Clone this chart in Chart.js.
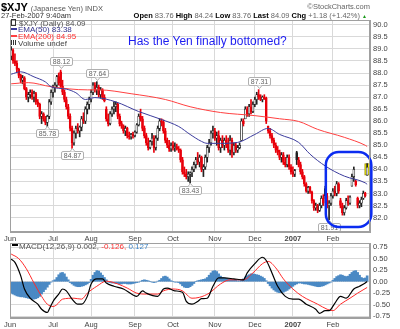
<!DOCTYPE html>
<html>
<head>
<meta charset="utf-8">
<script src="https://cdn.jsdelivr.net/npm/chart.js@4.4.0/dist/chart.umd.min.js"></script>
<style>
  body { margin: 0; background: #fff; }
  #wrap { position: relative; width: 400px; height: 329px; overflow: hidden; font-family: "Liberation Sans", Arial, sans-serif; }
  canvas { position: absolute; left: 0; }
  .t { position: absolute; white-space: nowrap; line-height: 1; color: #444; }
  .dash { display: inline-block; width: 6px; height: 2px; margin: 0 1px 2px 0; vertical-align: middle; }
</style>
</head>
<body>
<div id="wrap">
  <canvas id="priceChart" width="400" height="243" style="top:0"></canvas>
  <canvas id="macdChart" width="400" height="86" style="top:243px"></canvas>

  <div class="t" style="left:1px;top:1.5px;font-size:11px;font-weight:bold;color:#000">$XJY <span style="font-size:7.5px;font-weight:normal;color:#555">(Japanese Yen) INDX</span></div>
  <div class="t" style="right:30px;top:2.5px;font-size:7.5px;color:#666">&copy;StockCharts.com</div>
  <div class="t" style="left:1px;top:11.5px;font-size:7.5px;color:#333">27-Feb-2007 9:40am</div>
  <div class="t" style="right:33px;top:11.5px;font-size:7.5px;color:#666"><b style="color:#000">Open</b> 83.76 <b style="color:#000">High</b> 84.24 <b style="color:#000">Low</b> 83.76 <b style="color:#000">Last</b> 84.09 <b style="color:#000">Chg</b> +1.18 (+1.42%) <span style="color:#1a9a1a;font-size:5px">&#9650;</span></div>

  <div class="t" style="left:11px;top:19px;font-size:8px;color:#555"><span style="display:inline-block;width:3px;height:5px;border:1px solid #333;margin-right:3px;vertical-align:middle;margin-bottom:2px"></span>$XJY (Daily) 84.09</div>
  <div class="t" style="left:11px;top:26px;font-size:8px;color:#33338c"><span class="dash" style="background:#3b3b9c"></span>EMA(50) 83.38</div>
  <div class="t" style="left:11px;top:33px;font-size:8px;color:#ff3030"><span class="dash" style="background:#ff4040"></span>EMA(200) 84.95</div>
  <div class="t" style="left:11px;top:40px;font-size:8px;color:#444"><span style="display:inline-block;width:6px;height:5px;margin-right:1px;vertical-align:middle;margin-bottom:2px;background:linear-gradient(90deg,#333 0 1px,#fff 1px 2px,#333 2px 3px,#fff 3px 4px,#333 4px 5px,#fff 5px)"></span>Volume undef</div>

  <div class="t" style="left:128px;top:35px;font-size:12px;color:#1c1cf0">Has the Yen finally bottomed?</div>

  <div class="t" style="left:12px;top:242.5px;font-size:8px;color:#555"><span class="dash" style="background:#000"></span>MACD(12,26,9) 0.002, <span style="color:#ff3030">-0.126,</span> <span style="color:#3d85c6">0.127</span></div>
</div>

<script>
const FONT = '"Liberation Sans", Arial, sans-serif';

// daily bars, index 0 = 1-Jun-2006, last = 27-Feb-2007
const openPrices = [
  88.70, 88.95, 88.50, 88.40, 88.15, 87.90, 87.70, 87.80, 87.35, 87.00,
  87.10, 87.20, 87.00, 87.15, 86.80, 86.70, 86.20, 86.30, 86.10, 85.95,
  86.20, 86.80, 87.20, 87.40, 87.50, 87.85, 88.05, 87.45, 87.20, 86.90,
  86.60, 86.20, 85.70, 85.10, 85.50, 85.70, 85.60, 85.75, 86.10, 86.00,
  86.50, 86.70, 86.90, 87.20, 87.50, 87.30, 87.40, 87.10, 87.30, 87.00,
  86.50, 86.10, 85.90, 86.30, 86.50, 86.60, 86.70, 86.20, 85.90, 85.80,
  85.60, 85.70, 85.40, 85.35, 85.45, 85.40, 85.55, 85.85, 86.20, 86.10,
  85.70, 85.40, 85.10, 84.90, 85.15, 85.30, 84.90, 85.30, 85.70, 86.00,
  85.95, 85.60, 85.20, 85.00, 84.85, 85.00, 84.90, 84.95, 84.85, 84.80,
  84.40, 83.90, 83.80, 83.70, 83.80, 83.85, 84.00, 84.20, 84.40, 84.30,
  84.50, 84.00, 84.10, 84.50, 84.90, 85.10, 85.50, 85.60, 85.30, 85.40,
  84.90, 85.20, 85.00, 85.20, 85.10, 84.80, 85.20, 84.70, 85.00, 84.80,
  84.90, 85.20, 86.00, 86.10, 86.50, 86.30, 86.60, 86.40, 86.70, 86.90,
  87.10, 87.00, 86.90, 87.00, 86.95, 85.80, 85.60, 85.40, 85.20, 85.00,
  84.80, 84.70, 84.50, 84.60, 84.30, 84.20, 84.50, 84.10, 83.90, 83.80,
  84.70, 84.40, 84.20, 83.90, 83.70, 83.40, 83.10, 83.25, 83.05, 82.70,
  82.40, 82.50, 82.30, 82.50, 82.80, 83.20, 82.90, 82.50, 82.60, 82.90,
  83.10, 83.00, 83.40, 82.70, 82.50, 82.20, 82.40, 82.70, 82.60, 83.30,
  83.70, 83.50, 82.80, 82.50, 82.60, 82.80, 83.00, 83.76
];
const highPrices = [
  89.10, 89.00, 88.80, 88.50, 88.20, 87.95, 87.90, 87.85, 87.40, 87.20,
  87.30, 87.30, 87.25, 87.20, 86.90, 86.75, 86.40, 86.35, 86.20, 86.25,
  86.90, 87.30, 87.50, 87.60, 87.90, 88.00, 88.12, 87.70, 87.30, 87.00,
  86.70, 86.30, 85.80, 85.60, 85.80, 85.90, 85.80, 86.20, 86.35, 86.60,
  86.80, 87.00, 87.30, 87.60, 87.60, 87.64, 87.50, 87.40, 87.35, 87.10,
  86.60, 86.30, 86.40, 86.60, 86.80, 86.80, 86.75, 86.30, 86.00, 85.85,
  85.80, 85.75, 85.55, 85.50, 85.55, 85.60, 85.90, 86.30, 86.50, 86.20,
  85.80, 85.50, 85.30, 85.20, 85.50, 85.40, 85.40, 85.80, 86.10, 86.10,
  86.05, 85.70, 85.30, 85.20, 85.10, 85.15, 85.10, 85.05, 84.95, 84.85,
  84.50, 84.10, 84.00, 83.90, 83.90, 84.10, 84.30, 84.50, 84.70, 84.60,
  84.55, 84.20, 84.60, 85.00, 85.25, 85.60, 85.80, 85.70, 85.55, 85.60,
  85.30, 85.40, 85.30, 85.40, 85.30, 85.40, 85.30, 85.10, 85.10, 85.00,
  85.10, 86.10, 86.10, 86.60, 86.60, 86.70, 86.90, 86.80, 87.00, 87.20,
  87.31, 87.10, 87.05, 87.10, 87.00, 85.80, 85.70, 85.50, 85.30, 85.10,
  84.95, 84.80, 84.70, 84.70, 84.50, 84.60, 84.60, 84.20, 84.10, 84.00,
  84.75, 84.50, 84.30, 84.00, 83.75, 83.45, 83.30, 83.30, 83.10, 82.75,
  82.60, 82.55, 82.60, 82.90, 82.95, 83.30, 83.00, 82.70, 83.00, 83.20,
  83.30, 83.50, 83.45, 82.80, 82.60, 82.50, 82.80, 82.90, 82.90, 83.80,
  84.10, 83.55, 82.85, 82.70, 82.85, 83.10, 83.05, 84.24
];
const lowPrices = [
  88.55, 88.40, 88.30, 88.05, 87.80, 87.60, 87.55, 87.30, 86.90, 86.80,
  86.95, 86.90, 86.80, 86.70, 86.60, 86.10, 85.90, 86.00, 85.85, 85.78,
  86.10, 86.70, 87.00, 87.20, 87.40, 87.50, 87.40, 87.10, 86.80, 86.50,
  86.10, 85.60, 84.87, 85.00, 85.30, 85.50, 85.35, 85.60, 85.90, 85.90,
  86.30, 86.50, 86.80, 87.10, 87.20, 87.10, 87.00, 86.95, 86.90, 86.80,
  86.00, 85.80, 85.85, 86.20, 86.30, 86.40, 86.10, 85.80, 85.70, 85.50,
  85.40, 85.30, 85.25, 85.25, 85.30, 85.35, 85.50, 85.80, 86.00, 85.60,
  85.30, 85.00, 84.80, 84.85, 85.00, 84.70, 84.80, 85.20, 85.60, 85.80,
  85.50, 85.10, 84.90, 84.75, 84.75, 84.80, 84.75, 84.80, 84.70, 84.30,
  83.80, 83.70, 83.60, 83.50, 83.43, 83.70, 83.90, 84.05, 84.20, 84.10,
  83.90, 83.70, 84.00, 84.30, 84.70, 85.00, 85.30, 85.20, 85.00, 84.80,
  84.70, 84.90, 84.80, 84.90, 84.70, 84.60, 84.50, 84.60, 84.70, 84.70,
  84.85, 85.20, 85.80, 86.10, 86.20, 86.20, 86.30, 86.35, 86.60, 86.70,
  86.90, 86.85, 86.80, 86.90, 85.90, 85.50, 85.30, 85.10, 84.90, 84.70,
  84.60, 84.40, 84.30, 84.20, 84.10, 84.10, 84.00, 83.80, 83.70, 83.70,
  84.20, 84.10, 83.80, 83.60, 83.30, 83.05, 83.00, 83.00, 82.60, 82.30,
  82.30, 82.20, 82.25, 82.40, 82.50, 82.80, 82.40, 81.91, 82.50, 82.80,
  82.90, 82.90, 83.00, 82.40, 82.10, 82.10, 82.35, 82.50, 82.55, 83.30,
  83.50, 83.30, 82.40, 82.40, 82.45, 82.75, 82.85, 83.76
];
const closePrices = [
  88.95, 88.50, 88.40, 88.15, 87.90, 87.70, 87.80, 87.35, 87.00, 87.10,
  87.20, 87.00, 87.15, 86.80, 86.70, 86.20, 86.30, 86.10, 85.95, 86.20,
  86.80, 87.20, 87.40, 87.50, 87.85, 87.60, 87.45, 87.20, 86.90, 86.60,
  86.20, 85.70, 85.10, 85.50, 85.70, 85.60, 85.75, 86.10, 86.00, 86.50,
  86.70, 86.90, 87.20, 87.50, 87.30, 87.40, 87.10, 87.30, 87.00, 86.85,
  86.10, 85.90, 86.30, 86.50, 86.60, 86.70, 86.20, 85.90, 85.80, 85.60,
  85.70, 85.40, 85.35, 85.45, 85.40, 85.55, 85.85, 86.20, 86.10, 85.70,
  85.40, 85.10, 84.90, 85.15, 85.30, 84.90, 85.30, 85.70, 86.00, 85.95,
  85.60, 85.20, 85.00, 84.85, 85.00, 84.90, 84.95, 84.85, 84.80, 84.40,
  83.90, 83.80, 83.70, 83.80, 83.85, 84.00, 84.20, 84.40, 84.30, 84.50,
  84.00, 84.10, 84.50, 84.90, 85.10, 85.50, 85.60, 85.30, 85.40, 84.90,
  85.20, 85.00, 85.20, 85.10, 84.80, 85.20, 84.70, 85.00, 84.80, 84.90,
  85.00, 86.00, 85.90, 86.50, 86.30, 86.60, 86.40, 86.70, 86.90, 87.10,
  87.00, 86.90, 87.00, 86.95, 86.00, 85.60, 85.40, 85.20, 85.00, 84.80,
  84.70, 84.50, 84.60, 84.30, 84.20, 84.50, 84.10, 83.90, 83.80, 83.95,
  84.40, 84.20, 83.90, 83.70, 83.40, 83.10, 83.25, 83.05, 82.70, 82.40,
  82.50, 82.30, 82.50, 82.80, 82.60, 82.90, 82.50, 82.60, 82.90, 83.10,
  83.00, 83.40, 83.10, 82.50, 82.20, 82.40, 82.70, 82.60, 82.85, 83.70,
  84.00, 83.35, 82.50, 82.60, 82.75, 83.00, 82.91, 84.09
];

// moving averages, read at selected days
const ema50Days = [0, 5, 12, 18, 21, 29, 34, 39, 44, 55, 67, 79, 88, 94, 100, 103, 110, 119, 128, 135, 141, 151, 157, 165, 175, 186, 187];
const ema50 = [87.95, 88.05, 87.84, 87.63, 87.43, 87.33, 87.18, 86.90, 86.98, 86.80, 86.40, 86.07, 85.78, 85.45, 85.16, 85.08, 85.08, 85.12, 85.45, 85.70, 85.45, 85.12, 84.63, 84.14, 83.72, 83.44, 83.38];
const ema200Days = [0, 9, 21, 40, 46, 63, 81, 94, 110, 128, 141, 151, 161, 175, 186, 187];
const ema200 = [87.55, 87.60, 87.43, 87.30, 87.30, 87.14, 86.90, 86.60, 86.36, 86.23, 86.10, 85.99, 85.66, 85.33, 85.00, 84.95];

// MACD(12,26,9)
const macdDays = [0, 2, 5, 7, 10, 14, 16, 19, 20, 22, 25, 27, 29, 32, 35, 37, 40, 42, 45, 48, 50, 54, 59, 64, 66, 69, 71, 77, 80, 82, 86, 90, 92, 95, 98, 100, 103, 106, 109, 112, 117, 122, 124, 128, 132, 134, 137, 140, 144, 148, 151, 155, 160, 162, 165, 167, 170, 173, 176, 180, 183, 186, 187];
const macdLine = [0.49, 0.42, 0.13, -0.16, -0.36, -0.49, -0.60, -0.67, -0.60, -0.43, -0.27, -0.16, -0.20, -0.38, -0.49, -0.49, -0.32, -0.05, 0.06, 0.06, -0.03, -0.10, -0.16, -0.29, -0.32, -0.20, -0.25, -0.32, -0.16, -0.14, -0.20, -0.23, -0.43, -0.49, -0.43, -0.37, -0.36, -0.10, 0.08, 0.08, 0.06, 0.04, 0.19, 0.39, 0.53, 0.46, 0.19, -0.10, -0.32, -0.38, -0.38, -0.49, -0.60, -0.69, -0.63, -0.63, -0.47, -0.32, -0.36, -0.16, -0.10, -0.03, 0.002];
const signalDays = [0, 4, 8, 12, 16, 19, 22, 24, 27, 33, 37, 40, 45, 50, 56, 61, 66, 71, 77, 80, 85, 90, 95, 99, 104, 110, 115, 122, 127, 132, 135, 139, 143, 148, 153, 161, 166, 169, 173, 178, 182, 187];
const signalLine = [0.60, 0.50, 0.28, -0.03, -0.32, -0.49, -0.54, -0.50, -0.38, -0.36, -0.38, -0.25, -0.10, 0.01, -0.05, -0.14, -0.25, -0.27, -0.27, -0.20, -0.16, -0.20, -0.36, -0.34, -0.25, -0.05, 0.04, 0.04, 0.19, 0.39, 0.44, 0.30, 0.06, -0.16, -0.32, -0.49, -0.60, -0.63, -0.49, -0.36, -0.25, -0.126];
const macdHist = [
  -0.25, -0.27, -0.29, -0.31, -0.32, -0.33, -0.33, -0.34, -0.35, -0.36,
  -0.37, -0.38, -0.38, -0.37, -0.35, -0.32, -0.27, -0.22, -0.17, -0.12,
  -0.06, -0.01, 0.02, 0.04, 0.09, 0.15, 0.19, 0.20, 0.17, 0.10,
  0.04, -0.02, -0.05, -0.08, -0.10, -0.11, -0.11, -0.10, -0.09, -0.07,
  -0.05, -0.02, 0.05, 0.14, 0.20, 0.24, 0.23, 0.19, 0.14, 0.09,
  0.04, -0.01, -0.02, -0.03, -0.03, -0.04, -0.04, -0.05, -0.05, -0.04,
  -0.04, -0.05, -0.05, -0.05, -0.04, -0.03, -0.02, -0.01, 0.01, 0.03,
  0.04, 0.03, 0.02, 0.00, -0.01, -0.02, -0.01, 0.01, 0.03, 0.07,
  0.11, 0.12, 0.10, 0.06, 0.02, 0.00, -0.01, -0.01, -0.02, -0.05,
  -0.09, -0.12, -0.13, -0.13, -0.11, -0.08, -0.04, 0.00, 0.02, 0.03,
  0.04, 0.05, 0.06, 0.09, 0.14, 0.19, 0.23, 0.24, 0.22, 0.17,
  0.12, 0.09, 0.08, 0.07, 0.06, 0.06, 0.05, 0.04, 0.03, 0.02,
  0.02, 0.03, 0.06, 0.10, 0.13, 0.15, 0.17, 0.17, 0.16, 0.15,
  0.14, 0.12, 0.10, 0.07, 0.02, -0.04, -0.09, -0.14, -0.18, -0.21,
  -0.23, -0.24, -0.24, -0.23, -0.21, -0.19, -0.16, -0.13, -0.10, -0.07,
  -0.05, -0.03, -0.03, -0.04, -0.05, -0.05, -0.06, -0.07, -0.08, -0.09,
  -0.10, -0.11, -0.11, -0.10, -0.09, -0.07, -0.05, -0.03, -0.01, 0.03,
  0.07, 0.11, 0.13, 0.15, 0.14, 0.12, 0.11, 0.12, 0.16, 0.20,
  0.23, 0.24, 0.20, 0.14, 0.09, 0.07, 0.08, 0.127
];

// axis ticks
const monthStarts = [-0.6, 22, 42, 65, 85, 107, 128, 148, 169];
const monthNames = ['Jun', 'Jul', 'Aug', 'Sep', 'Oct', 'Nov', 'Dec', '2007', 'Feb'];
const priceTicks = [82.0, 82.5, 83.0, 83.5, 84.0, 84.5, 85.0, 85.5, 86.0, 86.5, 87.0, 87.5, 88.0, 88.5, 89.0, 89.5, 90.0];
const macdTicks = [-0.75, -0.5, -0.25, 0, 0.25, 0.5, 0.75];

// high/low callouts
const calloutDays = [26, 45, 19, 32, 94, 130, 167];
const calloutPrices = [88.12, 87.64, 85.78, 84.87, 83.43, 87.31, 81.91];

// hand-drawn box around the February bars
const circled = { fromDay: 165.3, toDay: 189.2, top: 84.72, bottom: 81.61 };

const lastDay = closePrices.length - 1;
const days = closePrices.map((c, i) => i);
const upColor = '#222222';
const downColor = '#e8000b';
// StockCharts style: colour by change vs previous close, hollow when close >= open
const strokeColors = closePrices.map((c, i) => (i > 0 && c < closePrices[i - 1]) ? downColor : upColor);
const fillColors = closePrices.map((c, i) => c >= openPrices[i] ? '#ffffff' : strokeColors[i]);

Chart.defaults.font.family = FONT;
Chart.defaults.animation = false;
Chart.defaults.plugins.legend.display = false;
Chart.defaults.plugins.tooltip.enabled = false;

function monthAxis() {
  return {
    type: 'linear', min: -0.6, max: 188.5, offset: false,
    afterBuildTicks: s => { s.ticks = monthStarts.map(v => ({ value: v })); },
    afterFit: s => { s.height = 11; s.paddingLeft = 0; s.paddingRight = 0; },
    grid: { color: '#d9d9d9', drawTicks: false, offset: false },
    border: { color: '#a0a0a0' },
    ticks: {
      autoSkip: false, maxRotation: 0, padding: 2, color: '#444',
      font: c => ({ family: FONT, size: 7.5, weight: monthNames[c.index] === '2007' ? 'bold' : 'normal' }),
      callback: (v, i) => monthNames[i]
    }
  };
}

function valueAxis(min, max, ticks, digits) {
  return {
    position: 'right', min: min, max: max,
    afterBuildTicks: s => { s.ticks = ticks.map(v => ({ value: v })); },
    afterFit: s => { s.width = 30; s.paddingTop = 0; s.paddingBottom = 0; },
    grid: { color: '#d9d9d9', drawTicks: false },
    border: { color: '#a0a0a0' },
    ticks: { autoSkip: false, padding: 3, color: '#444', font: { size: 7.5 }, callback: v => v.toFixed(digits) }
  };
}

// thin frame round each plot area
const framePlugin = {
  id: 'frame',
  afterDraw(chart) {
    const { ctx, chartArea: a } = chart;
    ctx.save();
    ctx.strokeStyle = '#a0a0a0';
    ctx.lineWidth = 1;
    ctx.strokeRect(Math.round(a.left) + 0.5, Math.round(a.top) + 0.5, Math.round(a.width) - 1, Math.round(a.height) - 1);
    ctx.restore();
  }
};

const calloutPlugin = {
  id: 'callouts',
  afterDatasetsDraw(chart) {
    const { ctx, scales: { x, y } } = chart;
    ctx.save();
    ctx.font = '7px ' + FONT;
    ctx.textAlign = 'center';
    ctx.textBaseline = 'middle';
    calloutDays.forEach((day, k) => {
      const price = calloutPrices[k];
      const above = price === highPrices[day];
      const label = price.toFixed(2);
      const px = Math.round(x.getPixelForValue(day));
      const py = y.getPixelForValue(price);
      const w = Math.round(ctx.measureText(label).width + 4), h = 8;
      const top = Math.round(above ? py - 5 - h : py + 3);
      ctx.fillStyle = '#ffffff';
      ctx.strokeStyle = '#b0b0b0';
      ctx.lineWidth = 1;
      ctx.beginPath();
      ctx.roundRect(px - w / 2 + 0.5, top + 0.5, w, h, 1.5);
      ctx.fill();
      ctx.stroke();
      // little pointer toward the bar
      const edge = above ? top + h + 0.5 : top + 0.5;
      const tip = above ? edge + 3 : edge - 3;
      ctx.beginPath();
      ctx.moveTo(px - 2, edge);
      ctx.lineTo(px + 0.5, tip);
      ctx.lineTo(px + 3, edge);
      ctx.fill();
      ctx.stroke();
      ctx.fillStyle = '#666';
      ctx.fillText(label, px + 0.5, top + h / 2 + 1);
    });
    const bx = x.getPixelForValue(circled.fromDay);
    const by = y.getPixelForValue(circled.top);
    ctx.strokeStyle = '#0b2cf0';
    ctx.lineWidth = 2.5;
    ctx.beginPath();
    ctx.roundRect(bx, by, x.getPixelForValue(circled.toDay) - bx, y.getPixelForValue(circled.bottom) - by, 13);
    ctx.stroke();
    ctx.restore();
  }
};

new Chart(document.getElementById('priceChart'), {
  type: 'bar',
  data: {
    datasets: [
      {
        type: 'line', label: 'EMA(50)', order: 0,
        data: ema50Days.map((d, k) => ({ x: d, y: ema50[k] })),
        borderColor: '#3b3b9c', borderWidth: 1, pointRadius: 0, cubicInterpolationMode: 'monotone'
      },
      {
        type: 'line', label: 'EMA(200)', order: 0,
        data: ema200Days.map((d, k) => ({ x: d, y: ema200[k] })),
        borderColor: '#ff4040', borderWidth: 1, pointRadius: 0, cubicInterpolationMode: 'monotone'
      },
      {
        label: 'body', order: 1, grouped: false, barThickness: 2, minBarLength: 1,
        data: days.map(i => ({ x: i, y: [Math.min(openPrices[i], closePrices[i]), Math.max(openPrices[i], closePrices[i])] })),
        backgroundColor: fillColors, borderColor: strokeColors, borderWidth: 0.7, borderSkipped: false
      },
      {
        label: 'wick', order: 2, grouped: false, barThickness: 1,
        data: days.map(i => ({ x: i, y: [lowPrices[i], highPrices[i]] })),
        backgroundColor: strokeColors
      },
      {
        label: 'last', order: 3, grouped: false, barThickness: 5,
        data: [{ x: lastDay, y: [lowPrices[lastDay], highPrices[lastDay]] }],
        backgroundColor: '#f4f000', borderColor: '#9c9000', borderWidth: 1, borderSkipped: false
      }
    ]
  },
  options: {
    responsive: false,
    devicePixelRatio: 1,
    layout: { padding: { left: 10, top: 20, right: 0, bottom: 0 } },
    scales: {
      x: monthAxis(),
      y: valueAxis(81.4, 90.2, priceTicks, 1)
    }
  },
  plugins: [framePlugin, calloutPlugin]
});

new Chart(document.getElementById('macdChart'), {
  type: 'bar',
  data: {
    datasets: [
      {
        type: 'line', label: 'MACD', order: 0,
        data: macdDays.map((d, k) => ({ x: d, y: macdLine[k] })),
        borderColor: '#000000', borderWidth: 1.2, pointRadius: 0, cubicInterpolationMode: 'monotone'
      },
      {
        type: 'line', label: 'Signal', order: 1,
        data: signalDays.map((d, k) => ({ x: d, y: signalLine[k] })),
        borderColor: '#ff2a2a', borderWidth: 1, pointRadius: 0, cubicInterpolationMode: 'monotone'
      },
      {
        label: 'Histogram', order: 2, barThickness: 2,
        data: macdHist.map((v, i) => ({ x: i, y: v })),
        backgroundColor: '#4a89c4'
      }
    ]
  },
  options: {
    responsive: false,
    devicePixelRatio: 1,
    layout: { padding: { left: 10, top: 0, right: 0, bottom: 0 } },
    scales: {
      x: monthAxis(),
      y: valueAxis(-0.79, 0.84, macdTicks, 2)
    }
  },
  plugins: [framePlugin]
});
</script>
</body>
</html>
